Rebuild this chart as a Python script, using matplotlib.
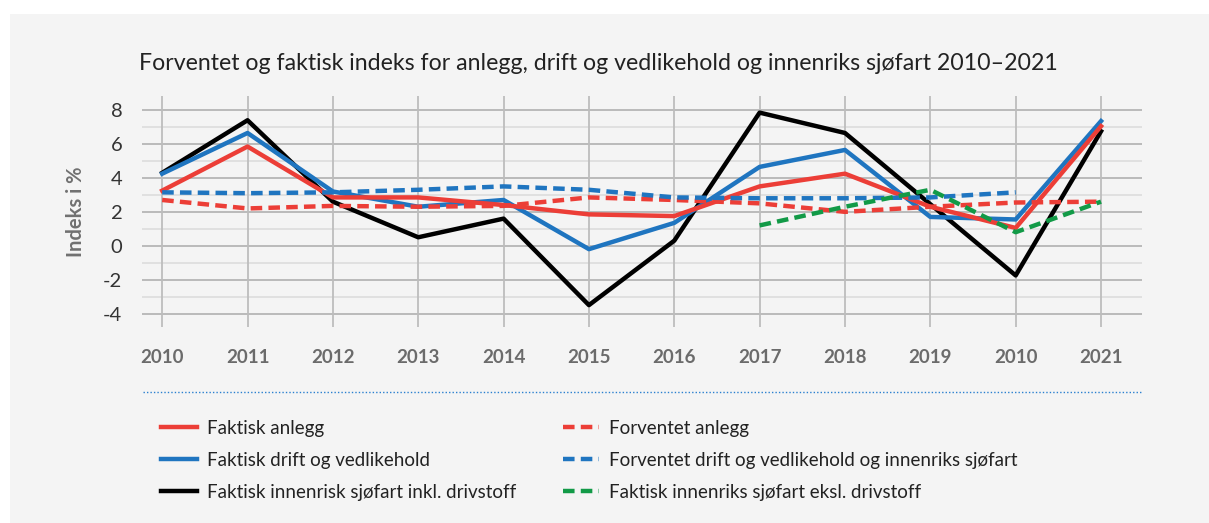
import matplotlib
matplotlib.use("Agg")
import matplotlib.pyplot as plt
from matplotlib.lines import Line2D
from matplotlib.patches import Rectangle
import numpy as np

plt.rcParams["axes.unicode_minus"] = False

years = ["2010", "2011", "2012", "2013", "2014", "2015", "2016", "2017", "2018", "2019", "2010", "2021"]

faktisk_anlegg = [3.25, 5.85, 2.85, 2.85, 2.4, 1.85, 1.75, 3.5, 4.25, 2.3, 1.05, 7.05]
faktisk_drift = [4.25, 6.65, 3.2, 2.3, 2.7, -0.2, 1.35, 4.65, 5.65, 1.7, 1.55, 7.35]
faktisk_sjofart_inkl = [4.3, 7.4, 2.6, 0.5, 1.6, -3.5, 0.3, 7.85, 6.65, 2.45, -1.75, 6.75]
forventet_anlegg = [2.7, 2.2, 2.35, 2.3, 2.35, 2.85, 2.7, 2.5, 2.0, 2.3, 2.55, 2.6]
forventet_drift = [3.15, 3.1, 3.15, 3.3, 3.5, 3.3, 2.85, 2.8, 2.8, 2.85, 3.15, np.nan]
faktisk_sjofart_eksl = [np.nan] * 7 + [1.2, 2.3, 3.3, 0.8, 2.6]

RED = "#ec3e37"
BLUE = "#1f75c0"
GREEN = "#129a47"

fig = plt.figure(figsize=(12.09, 5.23), dpi=100)
fig.patch.set_facecolor("white")
fig.add_artist(Rectangle((10 / 1209, 0), 1 - 10 / 1209, 1 - 14 / 523,
                         transform=fig.transFigure, facecolor="#f4f4f4", edgecolor="none", zorder=0))

ax = fig.add_axes([141.7 / 1209, 1 - 327 / 523, (1142 - 141.7) / 1209, (327 - 96) / 523])
ax.set_facecolor("none")
x = np.arange(len(years))

dash = (2.6, 1.4)
h1, = ax.plot(x, faktisk_anlegg, color=RED, lw=3.2, label="Faktisk anlegg", zorder=5)
h2, = ax.plot(x, faktisk_drift, color=BLUE, lw=3.2, label="Faktisk drift og vedlikehold", zorder=4)
h3, = ax.plot(x, faktisk_sjofart_inkl, color="black", lw=3.2, label="Faktisk innenrisk sjøfart inkl. drivstoff", zorder=3)
h4, = ax.plot(x, forventet_anlegg, color=RED, lw=3.2, dashes=dash, label="Forventet anlegg", zorder=6)
h5, = ax.plot(x[:11], forventet_drift[:11], color=BLUE, lw=3.2, dashes=dash,
              label="Forventet drift og vedlikehold og innenriks sjøfart", zorder=6)
h6, = ax.plot(x, faktisk_sjofart_eksl, color=GREEN, lw=3.2, dashes=dash,
              label="Faktisk innenriks sjøfart eksl. drivstoff", zorder=6)

ax.set_xlim(-0.24, 11.48)
ax.set_ylim(-4.79, 8.83)

# grid: horizontal major/minor lines, vertical lines at each year
for v in range(-4, 9):
    ax.axhline(v, color="#b5b5b5" if v % 2 == 0 else "#dedede", lw=1.3, zorder=1)
for xi in x:
    ax.axvline(xi, color="#bdbdbd", lw=1.3, zorder=1)

for s in ax.spines.values():
    s.set_visible(False)
ax.set_yticks(range(-4, 9, 2))
ax.set_xticks(x, labels=years)
ax.tick_params(length=0)
ax.tick_params(axis="y", pad=14, labelsize=14.5, labelcolor="#333333")
ax.tick_params(axis="x", pad=16, labelsize=13.5, labelcolor="#6b6b6b")
for t in ax.get_xticklabels():
    t.set_fontweight("bold")
    t.set_fontfamily("Lato")
for t in ax.get_yticklabels():
    t.set_fontfamily("Lato")
ax.set_ylabel("Indeks i %", fontsize=14.5, fontweight="bold", color="#707070", family="Lato", labelpad=12)

fig.text(139 / 1209, 1 - 63 / 523, "Forventet og faktisk indeks for anlegg, drift og vedlikehold og innenriks sjøfart 2010–2021",
         fontsize=16.7, color="#222222", family="Lato", va="center", ha="left")

fig.add_artist(Line2D([143 / 1209, 1142 / 1209], [1 - 392 / 523] * 2, transform=fig.transFigure,
                      color="#2a80d0", lw=1, ls=(0, (1, 1.5))))

leg = fig.legend(handles=[h1, h2, h3, h4, h5, h6], ncol=2, loc="upper left",
                 bbox_to_anchor=(144 / 1209, 1 - 403 / 523), frameon=False,
                 prop={"family": "Lato", "size": 13.5}, handlelength=1.9, handletextpad=0.55,
                 columnspacing=2.5, labelspacing=0.8, labelcolor="#222222")

fig.savefig("out.png", dpi=100)
